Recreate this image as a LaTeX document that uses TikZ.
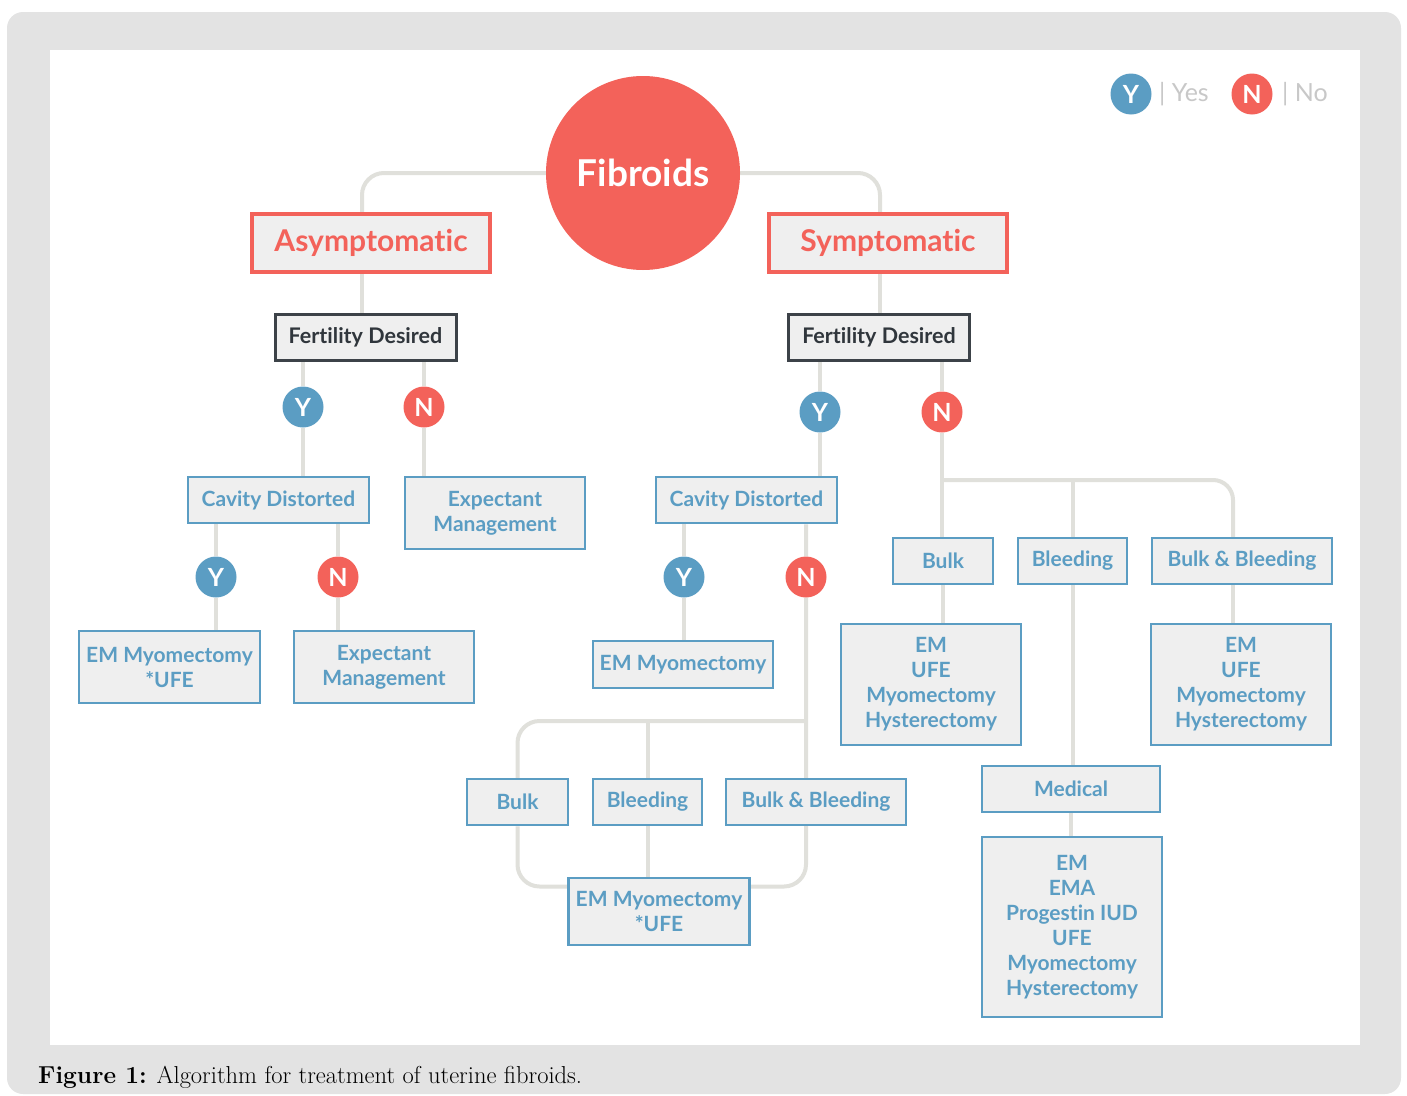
\documentclass[tikz,border=0pt]{standalone}
\usepackage{fontspec}
\newfontfamily\dfont{Lato}[Ligatures=NoCommon]
\definecolor{outerbg}{HTML}{E3E3E3}
\definecolor{myred}{HTML}{F3625A}
\definecolor{myblue}{HTML}{5B9DC3}
\definecolor{mydark}{HTML}{3C4248}
\definecolor{mytext}{HTML}{30363C}
\definecolor{boxfill}{HTML}{EFEFEF}
\definecolor{conncol}{HTML}{E0E0DB}
\definecolor{leggray}{HTML}{C8C8C8}
\pgfdeclarelayer{back}
\pgfdeclarelayer{conn}
\pgfsetlayers{back,conn,main}
\begin{document}
\begin{tikzpicture}[x=1pt,y=-1pt,
  bbox/.style={draw=myblue, line width=2.5pt, fill=boxfill, text=myblue,
    font=\dfont\bfseries\fontsize{21}{25}\selectfont, align=center, inner sep=0pt},
  rbox/.style={draw=myred, line width=3.5pt, fill=boxfill, text=myred,
    font=\dfont\bfseries\fontsize{30}{34}\selectfont, inner sep=0pt, minimum width=238pt, minimum height=58pt},
  dbox/.style={draw=mydark, line width=3pt, fill=boxfill, text=mytext,
    font=\dfont\bfseries\fontsize{21.5}{24}\selectfont, inner sep=0pt, minimum width=181pt, minimum height=46pt},
  ycirc/.style={circle, fill=myblue, text=white, font=\dfont\bfseries\fontsize{25}{25}\selectfont, minimum size=41pt, inner sep=0pt},
  ncirc/.style={circle, fill=myred, text=white, font=\dfont\bfseries\fontsize{25}{25}\selectfont, minimum size=41pt, inner sep=0pt},
  conn/.style={draw=conncol, line width=4pt},
  legtext/.style={text=leggray, font=\dfont\fontsize{25}{25}\selectfont, anchor=west, inner sep=0pt}
]
\useasboundingbox (0,0) rectangle (1407,1095);
\begin{pgfonlayer}{back}
\fill[outerbg, rounded corners=16pt] (7,12) rectangle (1401,1094);
\fill[white] (50,50) rectangle (1360,1045);
\end{pgfonlayer}

% caption
\node[anchor=base west, inner sep=0pt, font=\fontsize{24.5}{28}\selectfont] (cap) at (38,1083) {\textbf{Figure 1:} Algorithm for treatment of uterine fibroids.};

% legend
\node[ycirc] (ly) at (1131,94) {Y};
\node[legtext] (lyt) at (1159,94) {| Yes};
\node[ncirc] (ln) at (1252,94) {N};
\node[legtext] (lnt) at (1282,94) {| No};

% top
\node[circle, fill=myred, minimum size=194pt, inner sep=0pt, text=white,
  font=\dfont\bfseries\fontsize{37}{37}\selectfont] (fib) at (643,173) {Fibroids};
\node[rbox] (asym) at (371,243) {Asymptomatic};
\node[rbox] (sym) at (888,243) {Symptomatic};
\node[dbox] (fd1) at (365.5,337.5) {Fertility Desired};
\node[dbox] (fd2) at (879,337) {Fertility Desired};

% left branch
\node[ycirc] (y1) at (303,407) {Y};
\node[ncirc] (n1) at (424,407) {N};
\node[bbox, minimum width=181pt, minimum height=46pt] (cd1) at (278.5,500) {Cavity Distorted};
\node[bbox, minimum width=180pt, minimum height=72pt] (em1) at (495,513) {Expectant\\Management};
\node[ycirc] (y2) at (216,577) {Y};
\node[ncirc] (n2) at (338,577) {N};
\node[bbox, minimum width=181pt, minimum height=72pt] (emuf1) at (169.5,667) {EM Myomectomy\\*UFE};
\node[bbox, minimum width=180pt, minimum height=72pt] (exp2) at (384,667) {Expectant\\Management};

% right branch
\node[ycirc] (y3) at (820,412) {Y};
\node[ncirc] (n3) at (942,412) {N};
\node[bbox, minimum width=181pt, minimum height=46pt] (cd2) at (746.5,500) {Cavity Distorted};
\node[bbox, minimum width=100pt, minimum height=46pt] (bulk2) at (943,561) {Bulk};
\node[bbox, minimum width=109pt, minimum height=46pt] (bleed2) at (1072.5,561) {Bleeding};
\node[bbox, minimum width=180pt, minimum height=46pt] (bb2) at (1242,561) {Bulk \& Bleeding};
\node[bbox, minimum width=180pt, minimum height=121pt] (opt1) at (931,684.5) {EM\\UFE\\Myomectomy\\Hysterectomy};
\node[bbox, minimum width=180pt, minimum height=121pt] (opt2) at (1241,684.5) {EM\\UFE\\Myomectomy\\Hysterectomy};
\node[bbox, minimum width=178pt, minimum height=46pt] (med) at (1071,789) {Medical};
\node[bbox, minimum width=180pt, minimum height=180pt] (opt3) at (1072,927) {EM\\EMA\\Progestin IUD\\UFE\\Myomectomy\\Hysterectomy};

\node[ycirc] (y4) at (684,577) {Y};
\node[ncirc] (n4) at (806,577) {N};
\node[bbox, minimum width=180pt, minimum height=47pt] (emm) at (683,664.5) {EM Myomectomy};
\node[bbox, minimum width=101pt, minimum height=46pt] (bulk3) at (517.5,802) {Bulk};
\node[bbox, minimum width=109pt, minimum height=46pt] (bleed3) at (647.5,802) {Bleeding};
\node[bbox, minimum width=180pt, minimum height=46pt] (bb3) at (816,802) {Bulk \& Bleeding};
\node[bbox, minimum width=181pt, minimum height=67pt] (fin) at (659,911.5) {EM Myomectomy\\*UFE};

\coordinate (h1) at (942,480);
\coordinate (h2) at (806,721);

\begin{pgfonlayer}{conn}
\draw[conn, rounded corners=22pt] (fib.west) -| ([xshift=-9pt]asym.north);
\draw[conn, rounded corners=22pt] (fib.east) -| ([xshift=-8pt]sym.north);
\draw[conn] ([xshift=-9pt]asym.south) -- ([xshift=-9pt]asym.south |- fd1.north);
\draw[conn] ([xshift=-8pt]sym.south) -- ([xshift=-8pt]sym.south |- fd2.north);
\draw[conn] (y1 |- fd1.south) -- (y1) -- (y1 |- cd1.north);
\draw[conn] (n1 |- fd1.south) -- (n1) -- (n1 |- em1.north);
\draw[conn] (y2 |- cd1.south) -- (y2) -- (y2 |- emuf1.north);
\draw[conn] (n2 |- cd1.south) -- (n2) -- (n2 |- exp2.north);
\draw[conn] (y3 |- fd2.south) -- (y3) -- (y3 |- cd2.north);
\draw[conn] (n3 |- fd2.south) -- (n3) -- (n3 |- bulk2.north);
\draw[conn, rounded corners=20pt] (h1) -| ([xshift=-9pt]bb2.north);
\draw[conn] (bleed2.north |- h1) -- (bleed2.north);
\draw[conn] (bulk2.south) -- (bulk2.south |- opt1.north);
\draw[conn] (bleed2.south) -- (bleed2.south |- med.north);
\draw[conn] (med.south) -- (med.south |- opt3.north);
\draw[conn] ([xshift=-9pt]bb2.south) -- ([xshift=-9pt]bb2.south |- opt2.north);
\draw[conn] (y4 |- cd2.south) -- (y4) -- (y4 |- emm.north);
\draw[conn, rounded corners=22pt] (n4 |- cd2.south) -- (n4) |- ([yshift=25pt]fin.east);
\draw[conn, rounded corners=22pt] (h2) -| (bulk3.north);
\draw[conn, rounded corners=22pt] (bulk3.south) |- ([yshift=25pt]fin.west);
\draw[conn] (bleed3.north |- h2) -- (bleed3.north);
\draw[conn] (bleed3.south) -- (bleed3.south |- fin.north);
\end{pgfonlayer}
\end{tikzpicture}
\end{document}
